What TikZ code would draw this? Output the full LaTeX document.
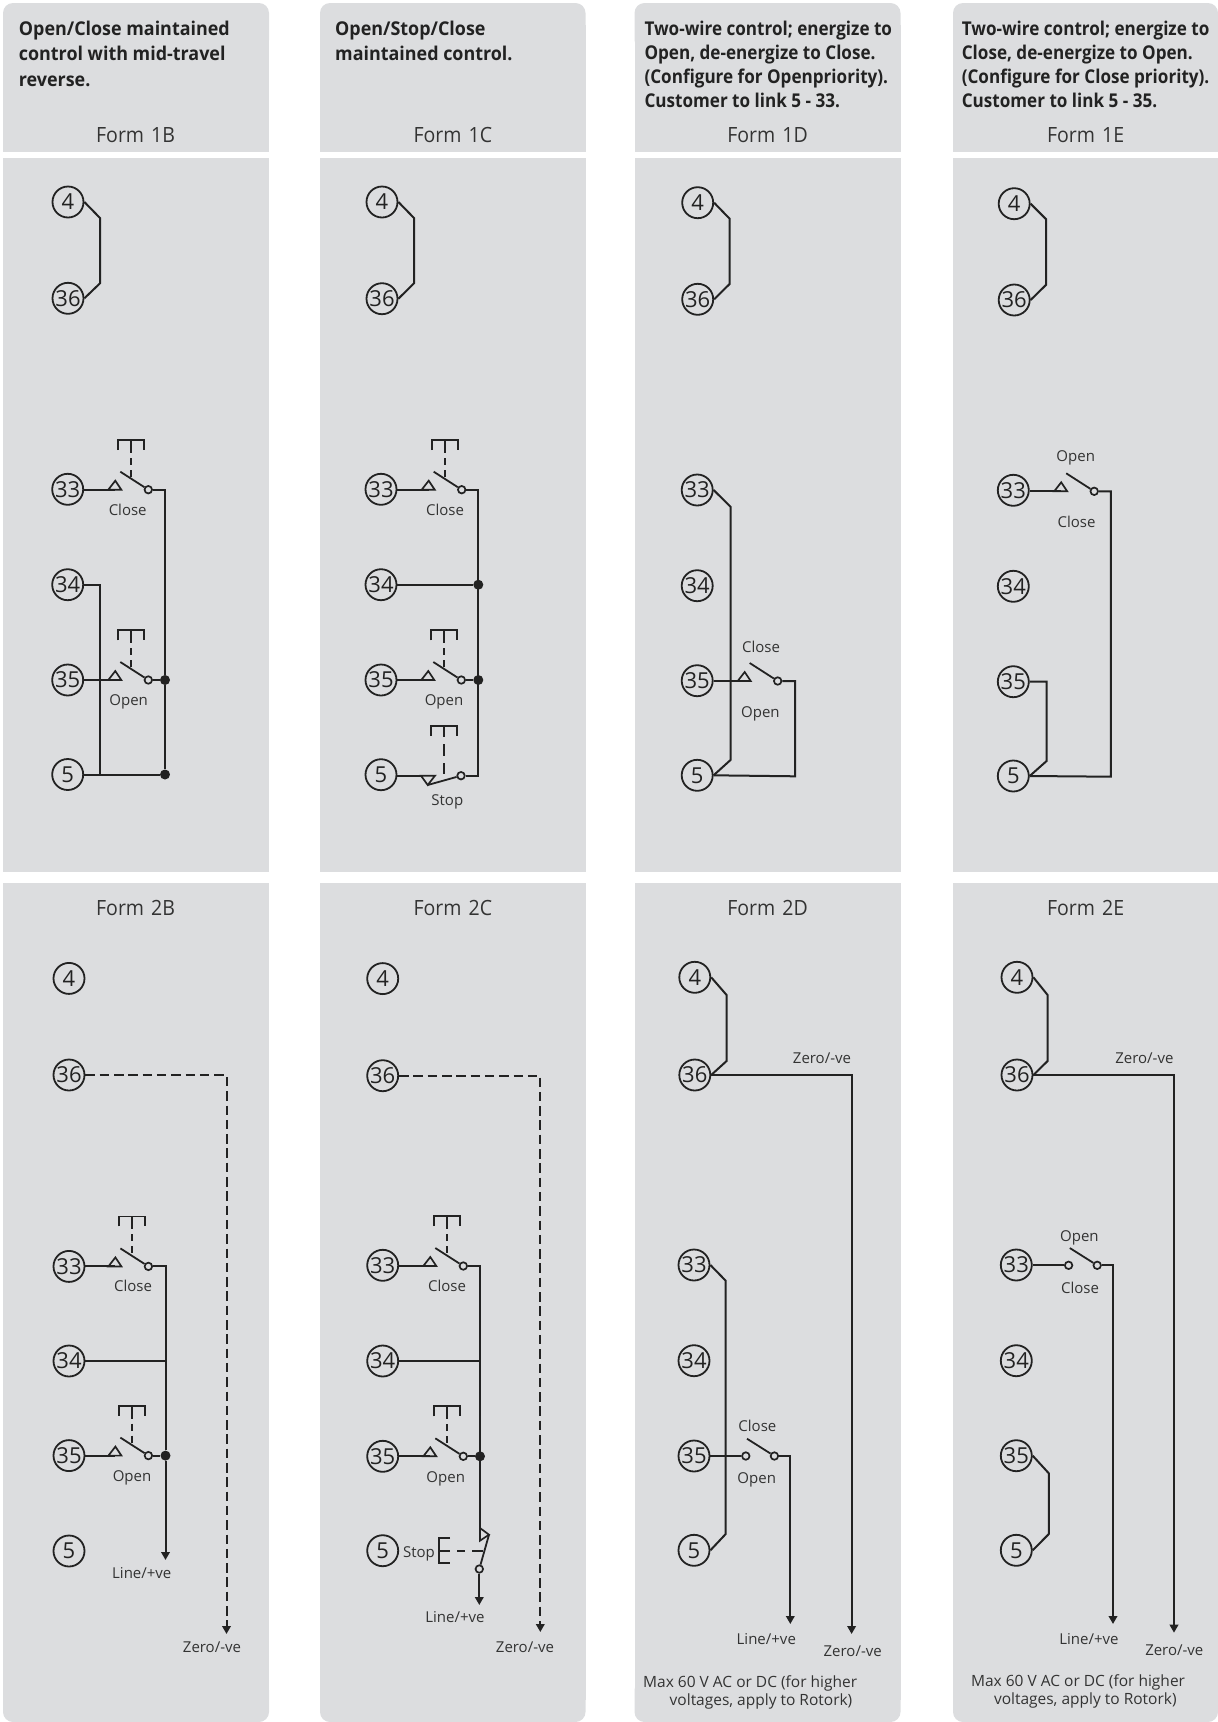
\documentclass[tikz,border=0pt]{standalone}
\usepackage{fontspec}
\setmainfont{Open Sans}
\newfontfamily\formfont[WordSpace=1.4,FakeStretch=0.93]{Open Sans}
\newfontfamily\headafont[FakeStretch=0.943]{Open Sans}
\newfontfamily\headbfont[FakeStretch=0.90]{Open Sans}
\usetikzlibrary{arrows.meta,calc}
\definecolor{panelgrey}{HTML}{DCDDDF}
\definecolor{ink}{HTML}{222222}
\definecolor{soft}{HTML}{333333}
\tikzset{
  x=1pt,y=-1pt,
  wire/.style={draw=ink,line width=2pt,line join=miter},
  flow/.style={wire,-{Triangle[length=8pt,width=8.5pt]}},
  dashflow/.style={flow,dash pattern=on 9.5pt off 4.8pt},
  term/.style={circle,draw=ink,line width=1.8pt,minimum size=31pt,inner sep=0pt,text=ink,font=\fontsize{22}{22}\selectfont},
  ringn/.style={circle,draw=ink,fill=panelgrey,line width=1.7pt,minimum size=7.5pt,inner sep=0pt},
  dotn/.style={circle,fill=ink,minimum size=10pt,inner sep=0pt},
  lab/.style={text=soft,inner sep=0pt,text height=11pt,text depth=0pt,font=\fontsize{15}{15}\selectfont},
  labs/.style={lab,yshift=0.3pt},
  formlab/.style={text=soft,inner sep=0pt,text height=15pt,text depth=0pt,font=\formfont\fontsize{21}{21}\selectfont},
  headA/.style={text=ink,anchor=north west,align=left,inner sep=0pt,font=\headafont\fontsize{19}{25.3}\selectfont\bfseries},
  headB/.style={text=ink,anchor=north west,align=left,inner sep=0pt,font=\headbfont\fontsize{19}{24}\selectfont\bfseries},
  note/.style={text=soft,anchor=west,inner sep=0pt,font=\fontsize{15.5}{15.5}\selectfont},
  lever/.style={draw=ink,line width=1.8pt},
  tri/.style={draw=ink,line width=1.7pt,line join=miter},
}
% switch: #1 name, #2 ring x, #3 y  (makes #1 ring and #1in left contact)
\newcommand{\swtri}[3]{\begin{scope}[shift={(#2,#3)}]
  \coordinate (#1in) at (-33,0);
  \node[ringn] (#1) at (0,0) {};
  \draw[tri] (-40,0) -- (-33,-9) -- (-27,0) -- cycle;
  \draw[lever] (-28,-18) -- (#1);
\end{scope}}
\newcommand{\swring}[3]{\begin{scope}[shift={(#2,#3)}]
  \node[ringn] (#1) at (0,0) {};
  \node[ringn] (#1in) at (-28.6,0) {};
  \draw[lever] (-27.4,-17.3) -- (#1);
\end{scope}}
% push button above a switch
\newcommand{\pb}[3]{\begin{scope}[shift={(#1,#2)}]
  \draw[lever] (-13,#3) -- (-13,0) -- (13,0) -- (13,#3);
  \draw[lever,dash pattern=on 13pt off 5pt on 7pt off 5pt on 9pt] (0,0) -- (0,37);
\end{scope}}
\newcommand{\bump}[5]{\draw[wire] (#1.east) -- (#2,#3) -- (#2,#4) -- (#5.east);}
\begin{document}
\begin{tikzpicture}
\useasboundingbox (0,0) rectangle (1218,1722);
% panels
\foreach \l/\r in {3/269,320/585.5,634.5/900.5,953/1218}{
  \fill[panelgrey,rounded corners=10pt] (\l,3) rectangle (\r,50);
  \fill[panelgrey] (\l,25) rectangle (\r,152);
  \fill[panelgrey] (\l,157.7) rectangle (\r,872);
  \fill[panelgrey,rounded corners=10pt] (\l,1680) rectangle (\r,1722);
  \fill[panelgrey] (\l,883) rectangle (\r,1700);
}
% headers
\node[headA] (h1) at (18.7,21) {Open/Close maintained\\control with mid-travel\\reverse.};
\node[headA] (h2) at (335,21) {Open/Stop/Close\\maintained control.};
\node[headB] (h3) at (644.3,21) {Two-wire control; energize to\\Open, de-energize to Close.\\(Configure for Openpriority).\\Customer to link 5 - 33.};
\node[headB] (h4) at (961.6,21) {Two-wire control; energize to\\Close, de-energize to Open.\\(Configure for Close priority).\\Customer to link 5 - 35.};
\node[formlab] (f1b) at (135.6,134.5) {Form 1B};
\node[formlab] (f1c) at (452.8,134.5) {Form 1C};
\node[formlab] (f1d) at (767.6,134.5) {Form 1D};
\node[formlab] (f1e) at (1085.6,134.5) {Form 1E};
\node[formlab] (f2b) at (135.6,908) {Form 2B};
\node[formlab] (f2c) at (452.8,908) {Form 2C};
\node[formlab] (f2d) at (767.6,908) {Form 2D};
\node[formlab] (f2e) at (1085.6,908) {Form 2E};

% ---------- Form 1B
\node[term] (a4) at (68,202) {4};
\node[term] (a36) at (68,298.3) {36};
\node[term] (a33) at (67.7,489.3) {33};
\node[term] (a34) at (67.7,584.7) {34};
\node[term] (a35) at (67.7,680) {35};
\node[term] (a5) at (67.7,774.5) {5};
\bump{a4}{100}{218}{283.3}{a36}
\swtri{aC}{148.3}{489.7}\pb{131.3}{440}{10}
\swtri{aO}{148.3}{680}\pb{131.3}{630.3}{10}
\node[dotn] (aD1) at (165,680) {};
\node[dotn] (aD2) at (165,774.5) {};
\coordinate (aT) at (165,489.7);
\draw[wire] (a33.east |- aCin) -- (aCin);
\draw[wire] (aC) -- (aT) -- (aD1) -- (aD2);
\draw[wire] (a35.east) -- (aOin);
\draw[wire] (aO) -- (aD1);
\draw[wire] (a5.east) -- (aD2);
\draw[wire] (a34.east) -- (100,584.7) -- (100,774.5);
\node[lab] (aLC) at (127.7,510) {Close};
\node[lab] (aLO) at (128.7,700) {Open};

% ---------- Form 1C
\node[term] (b4) at (382,202) {4};
\node[term] (b36) at (382,298.7) {36};
\node[term] (b33) at (381,489.3) {33};
\node[term] (b34) at (381,584.7) {34};
\node[term] (b35) at (381,680) {35};
\node[term] (b5) at (381,774.7) {5};
\bump{b4}{414}{218}{283.3}{b36}
\swtri{bC}{461.7}{489.7}\pb{445}{440}{10}
\swtri{bO}{461.3}{680}\pb{444}{630.3}{10}
\node[dotn] (bD0) at (478.3,584.7) {};
\node[dotn] (bD1) at (478.3,680) {};
\coordinate (bT) at (478.3,489.7);
\coordinate (bB) at (478.3,775.7);
\node[ringn] (bS) at (461,775.7) {};
\coordinate (bSin) at (421,775.7);
\draw[tri] (bSin) -- (435,775.7) -- (427.7,785) -- cycle;
\draw[lever] (427.7,785) -- (bS);
\draw[lever] (431,736) -- (431,726) -- (457.3,726) -- (457.3,736);
\draw[lever,dash pattern=on 11pt off 7pt on 12pt off 7pt on 11pt] (444,726) -- (444,779);
\draw[wire] (b33.east |- bCin) -- (bCin);
\draw[wire] (bC) -- (bT) -- (bB) -- (bS);
\draw[wire] (b34.east) -- (bD0);
\draw[wire] (b35.east) -- (bOin);
\draw[wire] (bO) -- (bD1);
\draw[wire] (b5.east |- bSin) -- (bSin);
\node[lab] (bLC) at (445,510) {Close};
\node[lab] (bLO) at (444,700) {Open};
\node[lab] (bLS) at (447.3,800) {Stop};

% ---------- Form 1D
\node[term] (c4) at (697.7,202.7) {4};
\node[term] (c36) at (697.7,299.3) {36};
\node[term] (c33) at (697.2,490) {33};
\node[term] (c34) at (697.2,585.7) {34};
\node[term] (c35) at (697.2,680.7) {35};
\node[term] (c5) at (697.2,775.3) {5};
\bump{c4}{729.6}{218.7}{284}{c36}
\bump{c33}{730.5}{506.7}{760}{c5}
\swtri{cC}{777.7}{681}
\draw[wire] (c35.east |- cCin) -- (cCin);
\coordinate (cR) at (795,681);
\coordinate (cB) at (795,776.3);
\draw[wire] (cC) -- (cR) -- (cB) -- (c5.east);
\node[lab] (cLC) at (761,647) {Close};
\node[lab] (cLO) at (760.4,712.3) {Open};

% ---------- Form 1E
\node[term] (d4) at (1014.2,203.7) {4};
\node[term] (d36) at (1014.2,300) {36};
\node[term] (d33) at (1013.3,490.3) {33};
\node[term] (d34) at (1013.3,586.3) {34};
\node[term] (d35) at (1013.3,681.7) {35};
\node[term] (d5) at (1013.3,776) {5};
\bump{d4}{1046.2}{219.3}{284.7}{d36}
\swtri{dC}{1094.2}{491.3}
\draw[wire] (d33.east |- dCin) -- (dCin);
\coordinate (dR) at (1110.8,491.3);
\coordinate (dB) at (1110.8,776.7);
\draw[wire] (dC) -- (dR) -- (dB) -- (d5.east);
\draw[wire] (d35.east) -- (1046.6,681.7) -- (1046.6,761) -- (d5.east);
\node[lab] (dLO) at (1075.7,456) {Open};
\node[lab] (dLC) at (1076.5,522) {Close};

% ---------- Form 2B
\node[term] (e4) at (69,978.4) {4};
\node[term] (e36) at (69,1075) {36};
\node[term] (e33) at (69,1266.4) {33};
\node[term] (e34) at (69,1361) {34};
\node[term] (e35) at (69,1455.6) {35};
\node[term] (e5) at (69,1551) {5};
\swtri{eC}{148.4}{1266.4}\pb{131.6}{1216.4}{10}
\swtri{eO}{148.4}{1455.6}\pb{131.6}{1405.6}{10}
\coordinate (eT) at (165.5,1266.4);
\coordinate (eE) at (165.5,1560);
\node[dotn] (eD) at (165.5,1455.6) {};
\draw[wire] (e33.east) -- (eCin);
\draw[wire] (eC) -- (eT) -- (eD);
\draw[flow] (eD) -- (eE);
\draw[wire] (e34.east) -- (165.5,1361);
\draw[wire] (e35.east) -- (eOin);
\draw[wire] (eO) -- (eD);
\coordinate (eZ) at (226.5,1075);
\coordinate (eZe) at (226.5,1634);
\draw[dashflow] (e36.east) -- (eZ) -- (eZe);
\node[lab] (eLC) at (133,1286) {Close};
\node[lab] (eLO) at (132,1476) {Open};
\node[labs] (eLL) at (141.8,1572.8) {Line/+ve};
\node[labs] (eLZ) at (212,1646.8) {Zero/-ve};

% ---------- Form 2C
\node[term] (g4) at (382.7,978.6) {4};
\node[term] (g36) at (382.7,1075.7) {36};
\node[term] (g33) at (382.7,1265.3) {33};
\node[term] (g34) at (382.7,1361) {34};
\node[term] (g35) at (382.7,1456.3) {35};
\node[term] (g5) at (382.7,1550.7) {5};
\swtri{gC}{463.3}{1266}\pb{447}{1216}{10}
\swtri{gO}{463.3}{1456.3}\pb{447}{1406.3}{10}
\coordinate (gT) at (480,1266);
\coordinate (gS) at (480,1528);
\node[dotn] (gD) at (480,1456.3) {};
\node[ringn] (gR) at (479.3,1569) {};
\coordinate (gE) at (479.3,1605);
\draw[wire] (g33.east |- gCin) -- (gCin);
\draw[wire] (gC) -- (gT) -- (gS);
\draw[wire] (g34.east) -- (480,1361);
\draw[wire] (g35.east) -- (gOin);
\draw[wire] (gO) -- (gD);
\draw[tri] (480,1528) -- (489,1534.7) -- (480,1540.7) -- cycle;
\draw[lever] (489,1534.7) -- (gR);
\draw[flow] (gR) -- (gE);
\draw[lever] (450,1538.3) -- (439.3,1538.3) -- (439.3,1563.3) -- (450,1563.3);
\draw[lever,dash pattern=on 10.7pt off 7pt on 8pt off 7pt on 11pt] (439.3,1550.7) -- (484,1550.7);
\coordinate (gZ) at (540.3,1075.7);
\coordinate (gZe) at (540.3,1632);
\draw[dashflow] (g36.east) -- (gZ) -- (gZe);
\node[lab] (gLC) at (447,1286) {Close};
\node[lab] (gLO) at (445.7,1477) {Open};
\node[lab] (gLS) at (419,1551.7) {Stop};
\node[labs] (gLL) at (455,1617.7) {Line/+ve};
\node[labs] (gLZ) at (525,1647) {Zero/-ve};

% ---------- Form 2D
\node[term] (k4) at (694.8,977.3) {4};
\node[term] (k36) at (694.8,1075) {36};
\node[term] (k33) at (694,1265) {33};
\node[term] (k34) at (694,1360.7) {34};
\node[term] (k35) at (694,1456) {35};
\node[term] (k5) at (694,1550.3) {5};
\bump{k4}{726.6}{995}{1061}{k36}
\bump{k33}{725.7}{1280.7}{1534}{k5}
\swring{kC}{774.4}{1456}
\draw[wire] (k35.east) -- (kCin);
\coordinate (kR) at (790.3,1456);
\coordinate (kE) at (790.3,1624);
\draw[flow] (kC) -- (kR) -- (kE);
\coordinate (kZ) at (851.6,1075);
\coordinate (kZe) at (851.6,1634);
\draw[flow] (k36.east) -- (kZ) -- (kZe);
\node[labs] (kLZt) at (822,1058.6) {Zero/-ve};
\node[lab] (kLC) at (757.4,1426) {Close};
\node[lab] (kLO) at (756.7,1478.3) {Open};
\node[labs] (kLL) at (766.3,1639) {Line/+ve};
\node[labs] (kLZ) at (852.7,1651) {Zero/-ve};
\node[note] (kN1) at (643,1683.5) {Max 60 V AC or DC (for higher};
\node[note] (kN2) at (669.5,1701.5) {voltages, apply to Rotork)};

% ---------- Form 2E
\node[term] (m4) at (1017,977.3) {4};
\node[term] (m36) at (1017,1075) {36};
\node[term] (m33) at (1016.3,1265) {33};
\node[term] (m34) at (1016.3,1360.7) {34};
\node[term] (m35) at (1016.3,1455.7) {35};
\node[term] (m5) at (1016.3,1550.3) {5};
\bump{m4}{1047.6}{995}{1061}{m36}
\bump{m35}{1048.8}{1473.3}{1534}{m5}
\swring{mC}{1097.2}{1265.3}
\draw[wire] (m33.east |- mCin) -- (mCin);
\coordinate (mR) at (1113,1265.3);
\coordinate (mE) at (1113,1624);
\draw[flow] (mC) -- (mR) -- (mE);
\coordinate (mZ) at (1174,1075);
\coordinate (mZe) at (1174,1632.7);
\draw[flow] (m36.east) -- (mZ) -- (mZe);
\node[labs] (mLZt) at (1144.4,1058.6) {Zero/-ve};
\node[lab] (mLO) at (1079.4,1236) {Open};
\node[lab] (mLC) at (1080,1288) {Close};
\node[labs] (mLL) at (1089,1639) {Line/+ve};
\node[labs] (mLZ) at (1174.3,1650) {Zero/-ve};
\node[note] (mN1) at (970.9,1682.5) {Max 60 V AC or DC (for higher};
\node[note] (mN2) at (993.8,1700.5) {voltages, apply to Rotork)};
\end{tikzpicture}
\end{document}
